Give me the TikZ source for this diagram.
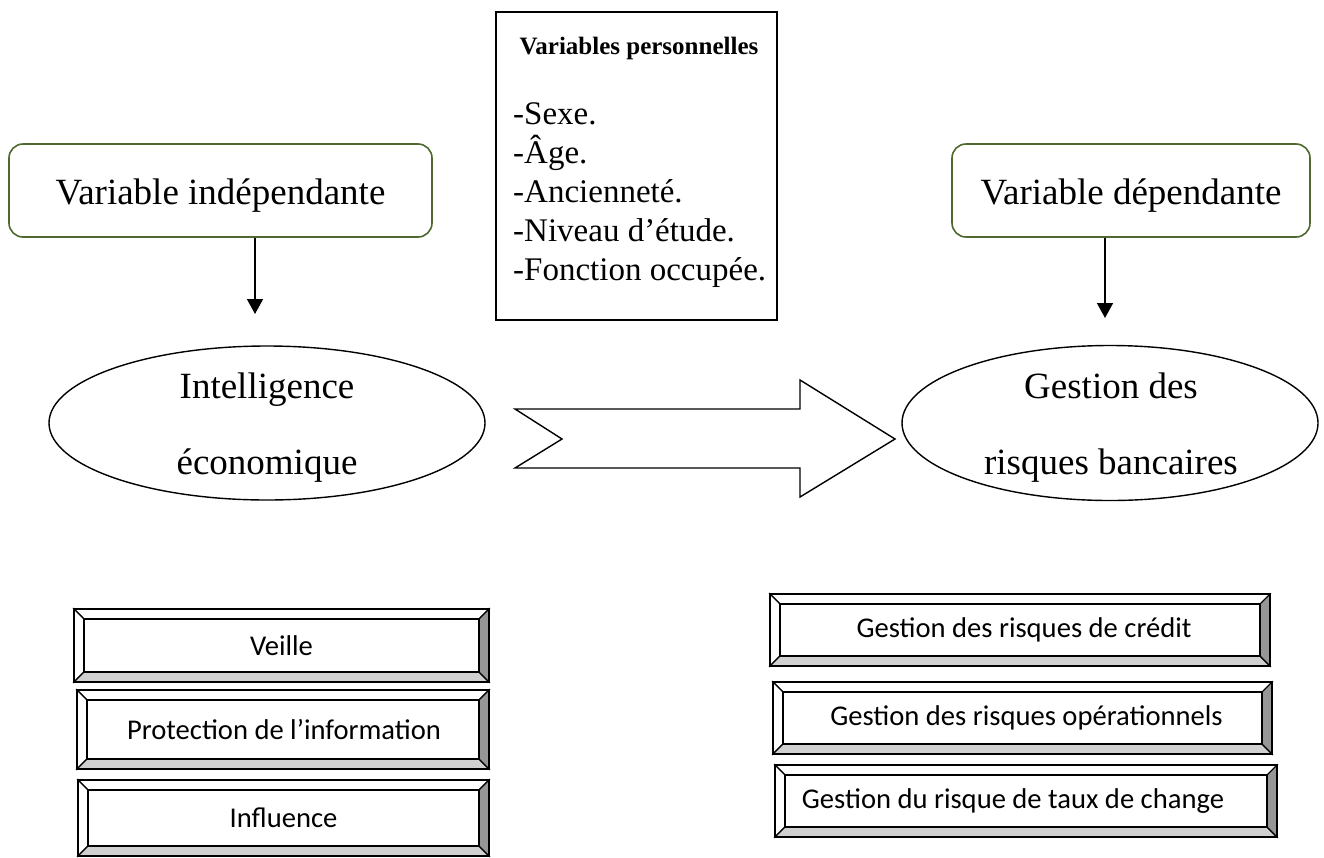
\documentclass[tikz,border=0pt]{standalone}
\usepackage{fontspec}
\setmainfont{Liberation Serif}
\newfontfamily\calib{Carlito}
\usetikzlibrary{shapes.geometric,arrows.meta}

\definecolor{vgreen}{RGB}{79,104,46}
\definecolor{bevbottom}{RGB}{208,208,208}
\definecolor{bevright}{RGB}{150,150,150}

% bevelled button: name, x1, y1, x2, y2, label x-offset, label
\newcommand{\bevelbox}[7]{%
  \fill[white] (#2,#3) rectangle (#4,#5);
  \filldraw[bevel, fill=white] (#2,#3) -- (#4,#3) -- (#4-10,#3+10) -- (#2+10,#3+10) -- cycle;
  \filldraw[bevel, fill=white] (#2,#3) -- (#2,#5) -- (#2+10,#5-10) -- (#2+10,#3+10) -- cycle;
  \filldraw[bevel, fill=bevbottom] (#2,#5) -- (#4,#5) -- (#4-10,#5-10) -- (#2+10,#5-10) -- cycle;
  \filldraw[bevel, fill=bevright] (#4,#3) -- (#4,#5) -- (#4-10,#5-10) -- (#4-10,#3+10) -- cycle;
  \draw[bevel] (#2+10,#3+10) rectangle (#4-10,#5-10);
  \draw[outer] (#2,#3) rectangle (#4,#5);
  \node[bevtext] (#1) at ({(#2+#4)/2+#6},{(#3+#5)/2}) {#7};
}

\begin{document}
\begin{tikzpicture}[x=1pt, y=-1pt,
  rbox/.style={draw=vgreen, line width=1.6pt, rounded corners=14pt, fill=white,
    inner sep=0pt, text height=36pt, text depth=8pt, font=\fontsize{37}{44}\selectfont},
  oval/.style={ellipse, draw, line width=1.4pt, inner sep=0pt},
  ovaltext/.style={align=center, inner sep=0pt, font=\fontsize{37}{76}\selectfont},
  conn/.style={line width=1.5pt, -{Triangle[length=15pt,width=16pt]}},
  bevel/.style={line width=1.1pt, draw=black},
  outer/.style={line width=2pt, draw=black},
  bevtext/.style={font=\calib\fontsize{28.6}{34}\selectfont, inner sep=0pt},
  item/.style={anchor=base west, inner sep=0pt, font=\fontsize{33}{39}\selectfont},
  bigarrow/.style={draw, line width=1.4pt, fill=white, line join=miter}]
\useasboundingbox (0,0) rectangle (1324,857);

% variable boxes
\node[rbox, minimum width=423pt, minimum height=93pt] (vi) at (220.5,190.5) {Variable indépendante};
\node[rbox, minimum width=358pt, minimum height=93pt] (vd) at (1131,190.5) {Variable dépendante};

% personal variables panel
\node[draw, line width=1.5pt, minimum width=281pt, minimum height=308pt, inner sep=0pt] (pers) at (636.5,166) {};
\node[anchor=base, inner sep=0pt, font=\bfseries\fontsize{25}{30}\selectfont] (ptitle) at (639,54) {Variables personnelles};
\node[item] (p1) at (513,124) {-Sexe.};
\node[item] (p2) at (513,163) {-Âge.};
\node[item] (p3) at (513,202) {-Ancienneté.};
\node[item] (p4) at (513,241) {-Niveau d’étude.};
\node[item] (p5) at (513,280) {-Fonction occupée.};

% ellipses with their two-line labels
\node[oval, minimum width=436pt, minimum height=154pt] (ie) at (267,423) {};
\node[ovaltext] (ielab) at (267,428) {Intelligence\\économique};
\node[oval, minimum width=416pt, minimum height=155pt] (gr) at (1110,423) {};
\node[ovaltext] (grlab) at (1111,428) {Gestion des\\risques bancaires};

% downward connectors
\coordinate (t1) at (255,314);
\coordinate (t2) at (1105,318);
\draw[conn] (vi.south -| t1) -- (t1);
\draw[conn] (vd.south -| t2) -- (t2);

% block arrow between the ellipses
\draw[bigarrow] (515,409) -- (800,409) -- (800,380) -- (895,439) -- (800,497) -- (800,468)
  -- (515,468) -- (562,439) -- cycle;

% dimensions of economic intelligence
\bevelbox{b1}{74}{609}{489}{682}{0}{Veille}
\bevelbox{b2}{77}{690}{489}{769}{1}{Protection de l’information}
\bevelbox{b3}{78}{780}{489}{856}{0}{Influence}

% dimensions of banking risk management
\bevelbox{c1}{770}{594}{1270}{666}{4}{Gestion des risques de crédit}
\bevelbox{c2}{773}{682}{1272}{754}{4}{Gestion des risques opérationnels}
\bevelbox{c3}{775}{765}{1277}{837}{-13}{Gestion du risque de taux de change}
\end{tikzpicture}
\end{document}
